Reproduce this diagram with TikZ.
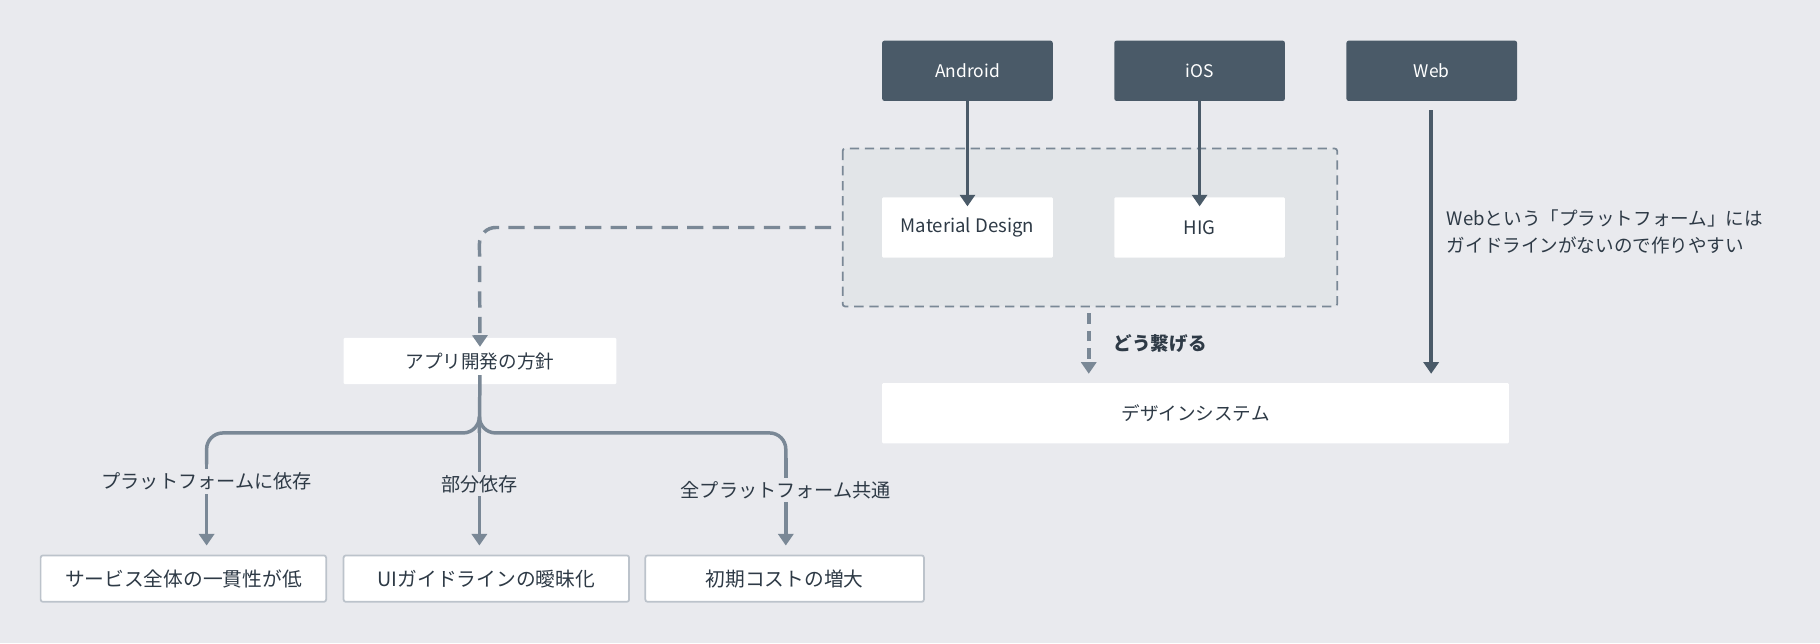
\documentclass[tikz,border=0pt]{standalone}
\usepackage{fontspec}
\setmainfont{Noto Sans CJK JP}
\usetikzlibrary{arrows.meta}
\definecolor{bg}{HTML}{E9EAEE}
\definecolor{grp}{HTML}{E2E5E8}
\definecolor{dark}{HTML}{4A5A68}
\definecolor{mid}{HTML}{7A8896}
\definecolor{txt}{HTML}{2E3A46}
\begin{document}
\begin{tikzpicture}[x=1pt,y=-1pt,
  plat/.style={fill=dark,text=white,minimum width=147pt,minimum height=52pt,rounded corners=2pt,font=\fontsize{15}{16}\selectfont},
  wbox/.style={fill=white,text=txt,minimum height=52pt,rounded corners=1pt,font=\fontsize{16}{18}\selectfont},
  obox/.style={fill=white,draw=mid!50,line width=1.5pt,text=txt,minimum height=40pt,rounded corners=2pt,font=\fontsize{17}{18}\selectfont},
  darr/.style={draw=dark,line width=3pt,-{Triangle[length=10pt,width=13pt]}},
  marr/.style={draw=mid,line width=3pt,-{Triangle[length=10pt,width=13pt]}},
  lbl/.style={fill=bg,text=txt,font=\fontsize{16.5}{18}\selectfont,inner sep=3pt}]
\fill[bg] (0,0) rectangle (1568,554);
\node[plat] (and) at (833.5,61) {Android};
\node[plat] (ios) at (1033.5,61) {iOS};
\node[plat] (web) at (1233.5,61) {Web};
\draw[mid,dash pattern=on 8pt off 5pt,line width=1.5pt,fill=grp,rounded corners=2pt] (726,128) rectangle (1152,264);
\node[wbox,minimum width=147pt] (md) at (833.5,196) {Material Design};
\node[wbox,minimum width=147pt] (hig) at (1033.5,196) {HIG};
\node[wbox,minimum width=540pt] (ds) at (1030,356) {デザインシステム};
\draw[darr] ([yshift=8pt]and.south) -- ([yshift=-8pt]md.north);
\draw[darr] ([yshift=8pt]ios.south) -- ([yshift=-8pt]hig.north);
\coordinate (wt) at (1233,95);
\coordinate (wb) at (1233,322);
\draw[darr] (wt) -- (wb);
\node[anchor=west,align=left,text=txt,font=\fontsize{16}{23}\selectfont] (wl) at (1243,200) {Webという「プラットフォーム」には\\ガイドラインがないので作りやすい};
\coordinate (dt) at (938,270);
\coordinate (db) at (938,322);
\draw[marr,dash pattern=on 9pt off 6pt] (dt) -- (db);
\node[anchor=west,text=txt,font=\bfseries\fontsize{16}{18}\selectfont] (dl) at (956,296) {どう繋げる};
\node[wbox,minimum width=235pt,minimum height=40pt] (app) at (413.5,311) {アプリ開発の方針};
\coordinate (ds1) at (716,196);
\draw[marr,dash pattern=on 14pt off 8pt,rounded corners=14pt] (ds1) -- (413,196) -- ([yshift=-8pt]app.north);
\node[obox,minimum width=246pt] (b1) at (158,498.5) {サービス全体の一貫性が低};
\node[obox,minimum width=246pt] (b2) at (419,498.5) {UIガイドラインの曖昧化};
\node[obox,minimum width=240pt] (b3) at (676,498.5) {初期コストの増大};
\coordinate (t1) at (178,470);
\coordinate (t2) at (413,470);
\coordinate (t3) at (677,470);
\draw[mid,line width=3pt] ([yshift=8pt]app.south) -- (413,373);
\draw[mid,line width=3pt,rounded corners=14pt] (413,360) -- (413,373) -- (178,373) -- (178,400);
\draw[mid,line width=3pt,rounded corners=14pt] (413,360) -- (413,373) -- (677,373) -- (677,400);
\draw[marr] (178,395) -- (t1);
\draw[marr] (413,373) -- (t2);
\draw[marr] (677,395) -- (t3);
\node[lbl] (l1) at (178,415) {プラットフォームに依存};
\node[lbl] (l2) at (413,417) {部分依存};
\node[lbl] (l3) at (677,422) {全プラットフォーム共通};
\end{tikzpicture}
\end{document}
